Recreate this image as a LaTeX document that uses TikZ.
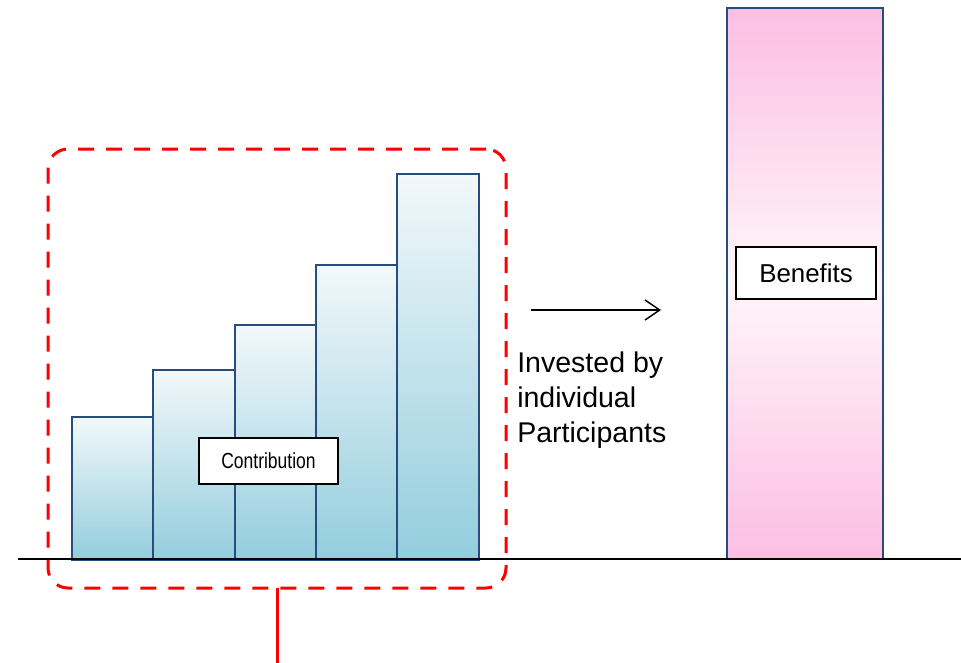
\documentclass[tikz,border=0pt]{standalone}
\usepackage{fontspec}
\setmainfont{Liberation Sans}
\newfontfamily\narrowsans[FakeStretch=0.8]{Liberation Sans}
\usepackage{tikz}
\usetikzlibrary{positioning}
\usetikzlibrary{arrows.meta}
\tikzset{>={Straight Barb[length=11pt,width=15pt]}}
\definecolor{barline}{RGB}{38,77,126}
\definecolor{bartop}{RGB}{242,248,250}
\definecolor{barbottom}{RGB}{147,205,221}
\definecolor{pinkedge}{RGB}{252,190,227}
\definecolor{pinkmid}{RGB}{255,246,250}
\definecolor{framered}{RGB}{255,0,0}

\begin{document}
\begin{tikzpicture}[x=0.75pt, y=-0.75pt, bar/.style={draw=barline, line width=1.5pt, top color=bartop, bottom color=barbottom, minimum width=61pt, inner sep=0pt, outer sep=0pt}, pinkbar/.style={draw=barline, line width=1.5pt, top color=pinkedge, bottom color=pinkedge, middle color=pinkmid, minimum width=117pt, minimum height=413.25pt, inner sep=0pt, outer sep=0pt}, labelbox/.style={draw=black, fill=white, line width=1.1pt, inner sep=0pt}, plaintext/.style={draw=none, fill=none, inner sep=0pt, align=left}, frame/.style={draw=framered, line width=2.25pt, dash pattern=on 12pt off 9pt, rounded corners=15pt, minimum width=343.5pt, minimum height=329.25pt, inner sep=0pt, outer sep=0pt}]
    \useasboundingbox (0,0) rectangle (961,662);

    %Nodes
    \node[bar, minimum height=107.25pt, anchor=south west](bar1) at (72,560){};
    \node[bar, minimum height=142.5pt](bar2)[above right=0pt and 0pt of bar1.south east]{};
    \node[bar, minimum height=176.25pt](bar3)[above right=0pt and 0pt of bar2.south east]{};
    \node[bar, minimum height=221.25pt](bar4)[above right=0pt and 0pt of bar3.south east]{};
    \node[bar, minimum height=289.5pt](bar5)[above right=0pt and 0pt of bar4.south east]{};

    \node[labelbox, minimum width=104.25pt, minimum height=34.5pt, font=\narrowsans\fontsize{16.4pt}{19pt}\selectfont](contribution) at (268.5,461){Contribution};

    \node[pinkbar, anchor=south west](benefits_bar) at (727,559){};
    \node[labelbox, minimum width=105pt, minimum height=39pt, font=\fontsize{19.4pt}{23pt}\selectfont](benefits) at (806,273){Benefits};

    \node[plaintext, anchor=north west, font=\fontsize{21.4pt}{26pt}\selectfont](invested_text) at (517,352){Invested by\\individual\\Participants};

    \coordinate (arrow_start) at (531,310);
    \coordinate (arrow_end) at (661,310);
    \coordinate (axis_left) at (18,559);
    \coordinate (axis_right) at (961,559);

    \node[frame](invest_frame) at (277,368.5){};
    \coordinate (frame_tail) at (invest_frame.south |- 0,664);

    %Lines
    \draw[line width=1.5pt] (axis_left) -- (axis_right);
    \draw[->, line width=1.1pt] (arrow_start) -- (arrow_end);
    \draw[framered, line width=2.25pt] (invest_frame.south) -- (frame_tail);

\end{tikzpicture}
\end{document}
